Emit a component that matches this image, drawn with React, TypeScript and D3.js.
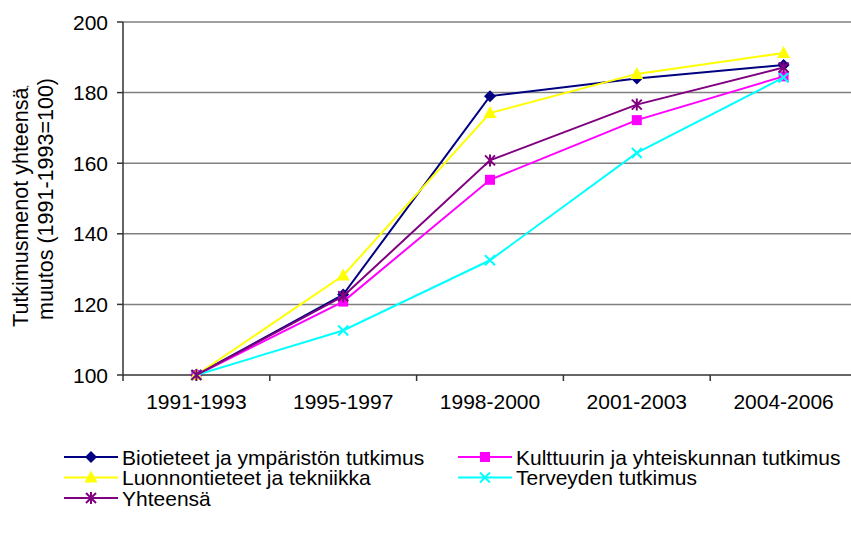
import React from "react";
import * as d3 from "d3";

const categories = ["1991-1993", "1995-1997", "1998-2000", "2001-2003", "2004-2006"];
const yTicks = [100, 120, 140, 160, 180, 200];

const bioValues = [100, 122.8, 179, 184, 187.8];
const kulttuuriValues = [100, 120.8, 155.3, 172.2, 184.6];
const luonnonValues = [100, 128.2, 174.2, 185.3, 191.2];
const terveysValues = [100, 112.6, 132.5, 162.9, 184.3];
const yhteensaValues = [100, 122.3, 160.8, 176.6, 187.1];

const seriesNames = [
  "Biotieteet ja ympäristön tutkimus",
  "Kulttuurin ja yhteiskunnan tutkimus",
  "Luonnontieteet ja tekniikka",
  "Terveyden tutkimus",
  "Yhteensä",
];

type Marker = "diamond" | "square" | "triangle" | "x" | "asterisk";

const series: { name: string; values: number[]; color: string; marker: Marker }[] = [
  { name: seriesNames[0], values: bioValues, color: "#000080", marker: "diamond" },
  { name: seriesNames[1], values: kulttuuriValues, color: "#FF00FF", marker: "square" },
  { name: seriesNames[2], values: luonnonValues, color: "#FFFF00", marker: "triangle" },
  { name: seriesNames[3], values: terveysValues, color: "#00FFFF", marker: "x" },
  { name: seriesNames[4], values: yhteensaValues, color: "#800080", marker: "asterisk" },
];

const FONT = "'Liberation Sans', Arial, sans-serif";
const FS = 21;

function MarkerShape({ type, x, y, color }: { type: Marker; x: number; y: number; color: string }) {
  switch (type) {
    case "diamond":
      return <path d={`M${x},${y - 6}L${x + 6},${y}L${x},${y + 6}L${x - 6},${y}Z`} fill={color} />;
    case "square":
      return <rect x={x - 5} y={y - 5} width={10} height={10} fill={color} />;
    case "triangle":
      return <path d={`M${x},${y - 7}L${x + 6.5},${y + 5}L${x - 6.5},${y + 5}Z`} fill={color} />;
    case "x":
      return (
        <path
          d={`M${x - 5},${y - 5}L${x + 5},${y + 5}M${x - 5},${y + 5}L${x + 5},${y - 5}`}
          stroke={color}
          strokeWidth={2}
        />
      );
    case "asterisk":
      return (
        <path
          d={`M${x - 5},${y - 5}L${x + 5},${y + 5}M${x - 5},${y + 5}L${x + 5},${y - 5}M${x},${y - 6}L${x},${y + 6}`}
          stroke={color}
          strokeWidth={2}
        />
      );
  }
}

export default function App() {
  const width = 851;
  const height = 541;
  const left = 123;
  const right = 857;
  const top = 22;
  const bottom = 375;

  const x = d3.scaleBand<string>().domain(categories).range([left, right]).padding(0);
  const y = d3.scaleLinear().domain([100, 200]).range([bottom, top]);
  const cx = (c: string) => (x(c) as number) + x.bandwidth() / 2;

  const line = d3
    .line<number>()
    .x((_, i) => cx(categories[i]))
    .y((v) => y(v));

  const xTickPositions = [...categories.map((c) => x(c) as number), right];

  const col1 = 64;
  const col2 = 458;
  const rows = [457, 477.5, 498];
  const legendItems = [
    { s: series[0], lx: col1, ly: rows[0] },
    { s: series[1], lx: col2, ly: rows[0] },
    { s: series[2], lx: col1, ly: rows[1] },
    { s: series[3], lx: col2, ly: rows[1] },
    { s: series[4], lx: col1, ly: rows[2] },
  ];

  return (
    <svg
      width={width}
      height={height}
      style={{ position: "absolute", left: 0, top: 0, background: "#fff" }}
      fontFamily={FONT}
    >
      <rect x={0} y={0} width={width} height={height} fill="#fff" />
      {yTicks
        .filter((t) => t !== 100)
        .map((t) => (
          <line key={t} x1={left} x2={right} y1={y(t)} y2={y(t)} stroke="#808080" strokeWidth={1.5} />
        ))}
      <line x1={left} x2={left} y1={top} y2={bottom} stroke="#333" strokeWidth={1.5} />
      <line x1={left} x2={right} y1={bottom} y2={bottom} stroke="#333" strokeWidth={1.5} />
      {yTicks.map((t) => (
        <g key={t}>
          <line x1={left - 6} x2={left} y1={y(t)} y2={y(t)} stroke="#333" strokeWidth={1.5} />
          <text x={left - 15} y={y(t)} dy="0.36em" textAnchor="end" fontSize={FS} fill="#000">
            {t}
          </text>
        </g>
      ))}
      {xTickPositions.map((p, i) => (
        <line key={i} x1={p} x2={p} y1={bottom} y2={bottom + 6} stroke="#333" strokeWidth={1.5} />
      ))}
      {categories.map((c) => (
        <text key={c} x={cx(c)} y={409} textAnchor="middle" fontSize={FS} fill="#000">
          {c}
        </text>
      ))}
      <g transform="translate(28, 0) rotate(-90)">
        <text x={-206} y={0} textAnchor="middle" fontSize={21.5} fill="#000">
          Tutkimusmenot yhteensä<tspan fontSize={9}>,</tspan>
        </text>
        <text x={-199} y={25} textAnchor="middle" fontSize={21.5} fill="#000">
          muutos (1991-1993=100)
        </text>
      </g>
      {series.map((s) => (
        <g key={s.name}>
          <path d={line(s.values) as string} fill="none" stroke={s.color} strokeWidth={2} />
          {s.values.map((v, i) => (
            <MarkerShape key={i} type={s.marker} x={cx(categories[i])} y={y(v)} color={s.color} />
          ))}
        </g>
      ))}
      {legendItems.map(({ s, lx, ly }) => (
        <g key={s.name}>
          <line x1={lx} x2={lx + 54} y1={ly} y2={ly} stroke={s.color} strokeWidth={2} />
          <MarkerShape type={s.marker} x={lx + 27} y={ly} color={s.color} />
          <text x={lx + 58} y={ly} dy="0.36em" fontSize={FS} fill="#000">
            {s.name}
          </text>
        </g>
      ))}
    </svg>
  );
}
